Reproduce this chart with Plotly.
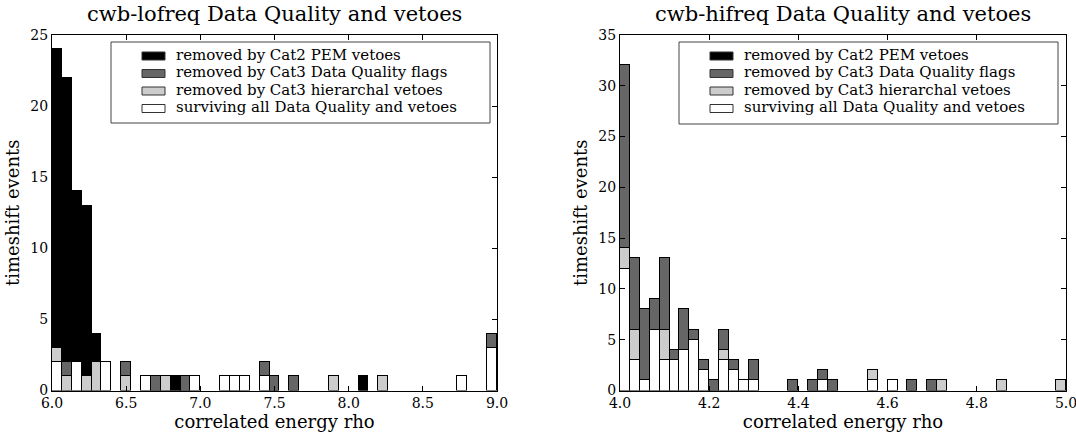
import plotly.graph_objects as go

# ---------------- data (counts per bin, 45 bins each) ----------------
N_BINS = 45
lo_range = [6.0, 9.0]
hi_range = [4.0, 5.0]
lo_ticks = [6.0, 6.5, 7.0, 7.5, 8.0, 8.5, 9.0]
hi_ticks = [4.0, 4.2, 4.4, 4.6, 4.8, 5.0]

def sparse(d):
    return [d.get(i, 0) for i in range(N_BINS)]

lo_surviving = sparse({0: 2, 2: 2, 5: 2, 9: 1, 14: 1, 17: 1, 18: 1, 19: 1, 21: 1, 41: 1, 44: 3})
lo_cat3_hier = sparse({0: 1, 1: 1, 3: 1, 4: 2, 7: 1, 11: 1, 28: 1, 33: 1})
lo_cat3_dq = sparse({1: 1, 7: 1, 10: 1, 13: 1, 21: 1, 22: 1, 24: 1, 44: 1})
lo_cat2_pem = sparse({0: 21, 1: 20, 2: 12, 3: 12, 4: 2, 12: 1, 31: 1})

hi_surviving = sparse({0: 12, 1: 3, 2: 1, 3: 6, 4: 3, 5: 3, 6: 4, 7: 5, 8: 2, 10: 3, 11: 2,
                       12: 1, 13: 1, 20: 1, 25: 1, 27: 1})
hi_cat3_hier = sparse({0: 2, 1: 3, 4: 3, 10: 1, 25: 1, 32: 1, 38: 1, 44: 1})
hi_cat3_dq = sparse({0: 18, 1: 7, 2: 7, 3: 3, 4: 7, 5: 1, 6: 4, 7: 1, 8: 1, 9: 1, 10: 2, 11: 1,
                     13: 2, 17: 1, 19: 1, 20: 1, 21: 1, 29: 1, 31: 1})
hi_cat2_pem = sparse({})

labels = ["removed by Cat2 PEM vetoes",
          "removed by Cat3 Data Quality flags",
          "removed by Cat3 hierarchal vetoes",
          "surviving all Data Quality and vetoes"]
colors = ["#000000", "#666666", "#cccccc", "#ffffff"]
titles = ["cwb-lofreq Data Quality and vetoes", "cwb-hifreq Data Quality and vetoes"]

FONT = "DejaVu Serif"
W, H = 1076, 436

fig = go.Figure()

def add_hist(rng, series, xa, ya):
    w = (rng[1] - rng[0]) / N_BINS
    centers = [rng[0] + (i + 0.5) * w for i in range(N_BINS)]
    # stacking order bottom->top: surviving, hier, dq, pem
    for k in [3, 2, 1, 0]:
        vals = [v if v else None for v in series[k]]
        fig.add_trace(go.Bar(
            x=centers, y=vals, width=w, name=labels[k],
            marker=dict(color=colors[k], line=dict(color="#000000", width=1)),
            xaxis=xa, yaxis=ya, showlegend=False, hoverinfo="skip"))

add_hist(lo_range, [lo_cat2_pem, lo_cat3_dq, lo_cat3_hier, lo_surviving], "x", "y")
add_hist(hi_range, [hi_cat2_pem, hi_cat3_dq, hi_cat3_hier, hi_surviving], "x2", "y2")

# ---------------- legend boxes (drawn in paper space, matplotlib style) ----------------
def px(x):
    return x / W

def py(y):
    return 1 - y / H

shapes = []
annotations = []

def add_legend(box_x0, box_x1, box_y0, box_y1, patch_x0):
    shapes.append(dict(type="rect", xref="paper", yref="paper",
                       x0=px(box_x0), x1=px(box_x1), y0=py(box_y1), y1=py(box_y0),
                       line=dict(color="#444444", width=1), fillcolor="#ffffff", layer="above"))
    for k, lab in enumerate(labels):
        cy = 56 + 17.5 * k
        shapes.append(dict(type="rect", xref="paper", yref="paper",
                           x0=px(patch_x0), x1=px(patch_x0 + 23), y0=py(cy + 4), y1=py(cy - 4),
                           line=dict(color="#333333", width=1), fillcolor=colors[k], layer="above"))
        annotations.append(dict(text=lab, x=px(patch_x0 + 32), y=py(cy - 1.5),
                                xref="paper", yref="paper", showarrow=False,
                                xanchor="left", yanchor="middle",
                                font=dict(family=FONT, size=15, color="#000000")))

add_legend(111, 490, 42, 123, 142)
add_legend(679, 1058, 42, 124, 710)

for t, cx in zip(titles, [(52 + 497) / 2, (620 + 1066) / 2]):
    annotations.append(dict(text=t, x=px(cx), y=py(14), xref="paper", yref="paper",
                            showarrow=False, font=dict(family=FONT, size=21, color="#000000"),
                            xanchor="center", yanchor="middle"))

ydom = [1 - 390.5 / H, 1 - 35 / H]
axis_common = dict(showline=True, linecolor="#000000", linewidth=1, mirror="allticks",
                   ticks="inside", ticklen=5, tickcolor="#000000", showgrid=False,
                   zeroline=False, automargin=False, ticklabeloverflow="allow",
                   tickfont=dict(family=FONT, size=14, color="#000000"))
title_font = dict(family=FONT, size=18, color="#000000")

fig.update_layout(
    width=W, height=H,
    margin=dict(l=0, r=0, t=0, b=0),
    paper_bgcolor="#ffffff", plot_bgcolor="#ffffff",
    barmode="stack", bargap=0,
    font=dict(family=FONT, color="#000000"),
    xaxis=dict(domain=[52 / W, 497 / W], range=lo_range, tickmode="array",
               tickvals=lo_ticks, ticktext=[f"{t:.1f}" for t in lo_ticks], anchor="y",
               title=dict(text="correlated energy rho", font=title_font, standoff=4),
               **axis_common),
    yaxis=dict(domain=ydom, range=[0, 25], dtick=5, anchor="x",
               title=dict(text="timeshift events", font=title_font, standoff=6),
               **axis_common),
    xaxis2=dict(domain=[620 / W, 1066 / W], range=hi_range, tickmode="array",
                tickvals=hi_ticks, ticktext=[f"{t:.1f}" for t in hi_ticks], anchor="y2",
                title=dict(text="correlated energy rho", font=title_font, standoff=4),
                **axis_common),
    yaxis2=dict(domain=ydom, range=[0, 35], dtick=5, anchor="x2",
                title=dict(text="timeshift events", font=title_font, standoff=6),
                **axis_common),
    shapes=shapes,
    annotations=annotations,
)

fig.write_html("out.html")
